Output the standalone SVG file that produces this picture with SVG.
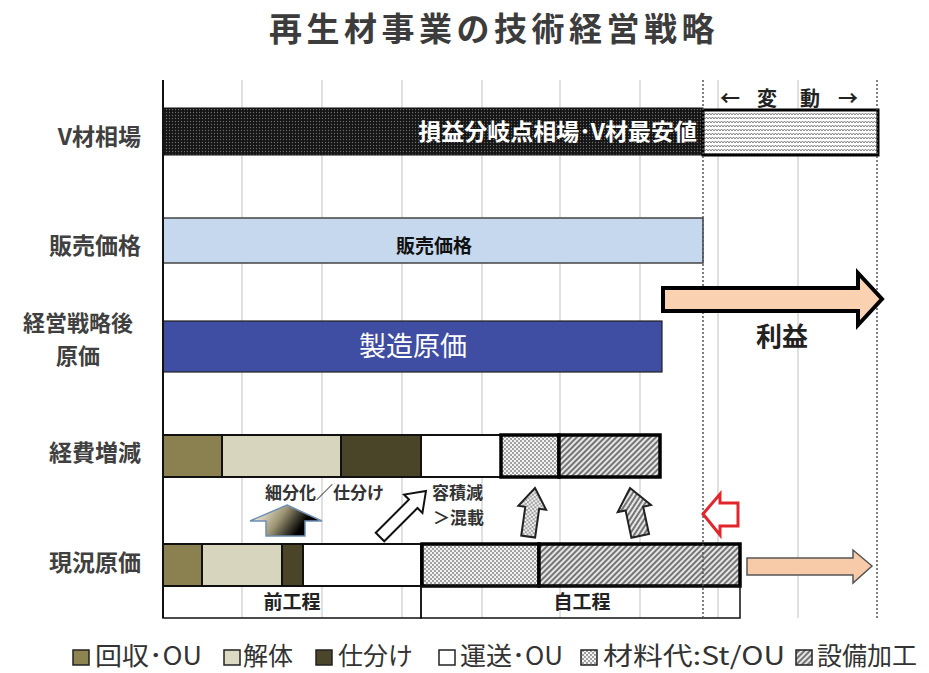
<svg xmlns="http://www.w3.org/2000/svg" width="929" height="673" viewBox="0 0 929 673">
<style>
text{font-family:"Noto Sans CJK JP","Noto Sans",sans-serif;}
.title{font-size:33px;font-weight:700;fill:#3c3c3c;letter-spacing:4.5px;}
.lbl{font-size:23px;font-weight:700;fill:#404040;}
.grid{stroke:#d6d6d6;stroke-width:1.5;}
.dash{stroke:#555;stroke-width:1.5;stroke-dasharray:2 2;}
.seg{stroke:#111;stroke-width:2;}
.thick{stroke:#000;stroke-width:3.5;}
.leg{font-size:25px;fill:#333;}
.legsq{stroke:#222;stroke-width:1.5;}
.ann{font-size:17px;font-weight:700;fill:#333;}
.var{font-size:20px;font-weight:700;fill:#222;}
</style>
<defs>
<pattern id="darkdots" width="3" height="3" patternUnits="userSpaceOnUse">
<rect width="3" height="3" fill="#151515"/>
<circle cx="1.5" cy="1.5" r="0.7" fill="#6a6a6a"/>
</pattern>
<pattern id="zigzag" width="6" height="4" patternUnits="userSpaceOnUse">
<rect width="6" height="4" fill="#fff"/>
<polyline points="0,3 1.5,1 3,3 4.5,1 6,3" fill="none" stroke="#777" stroke-width="0.9"/>
</pattern>
<pattern id="dots" width="4" height="4" patternUnits="userSpaceOnUse">
<rect width="4" height="4" fill="#f2f2f2"/>
<circle cx="1" cy="1" r="0.9" fill="#7a7a7a"/>
<circle cx="3" cy="3" r="0.9" fill="#7a7a7a"/>
</pattern>
<pattern id="hatch" width="4" height="4" patternUnits="userSpaceOnUse" patternTransform="rotate(45)">
<rect width="4" height="4" fill="#e6e6e6"/>
<line x1="1" y1="0" x2="1" y2="4" stroke="#444" stroke-width="1.4"/>
</pattern>
<linearGradient id="grad" x1="0" y1="0" x2="1" y2="0.3">
<stop offset="0.15" stop-color="#f1eedc"/>
<stop offset="0.5" stop-color="#9b9372"/>
<stop offset="0.85" stop-color="#000"/>
</linearGradient>
</defs>
<rect width="929" height="673" fill="#fff"/>

<g id="title"><text class="title" x="494" y="41" text-anchor="middle">再生材事業の技術経営戦略</text></g>

<g id="grid">
<line class="grid" x1="242" y1="80" x2="242" y2="618"/>
<line class="grid" x1="322" y1="80" x2="322" y2="618"/>
<line class="grid" x1="402" y1="80" x2="402" y2="618"/>
<line class="grid" x1="482" y1="80" x2="482" y2="618"/>
<line class="grid" x1="560" y1="80" x2="560" y2="618"/>
<line class="grid" x1="640" y1="80" x2="640" y2="618"/>
<line class="grid" x1="718" y1="80" x2="718" y2="618"/>
<line class="grid" x1="798" y1="80" x2="798" y2="618"/>
</g>

<g id="row-labels">
<text class="lbl" x="141" y="145" text-anchor="end">V材相場</text>
<text class="lbl" x="141" y="254" text-anchor="end">販売価格</text>
<text class="lbl" x="78" y="331" text-anchor="middle" style="font-size:22px">経営戦略後</text>
<text class="lbl" x="78" y="364" text-anchor="middle" style="font-size:22px">原価</text>
<text class="lbl" x="141" y="461" text-anchor="end">経費増減</text>
<text class="lbl" x="141" y="571" text-anchor="end">現況原価</text>
</g>

<g id="v-market">
<rect x="163" y="108" width="540" height="47" fill="url(#darkdots)" stroke="#111" stroke-width="1"/>
<text x="697" y="140" text-anchor="end" font-size="23" font-weight="700" fill="#fff">損益分岐点相場･V材最安値</text>
</g>
<g id="fluctuation">
<rect x="703" y="110" width="175" height="45" fill="url(#zigzag)" stroke="#000" stroke-width="3"/>
<text class="var" x="730" y="106" text-anchor="middle">←</text>
<text class="var" x="767" y="106" text-anchor="middle">変</text>
<text class="var" x="810" y="106" text-anchor="middle">動</text>
<text class="var" x="848" y="106" text-anchor="middle">→</text>
</g>

<g id="sales-price">
<rect x="163" y="218" width="540" height="45" fill="#c6d8ee" stroke="#444" stroke-width="1.5"/>
<text x="434" y="253" text-anchor="middle" font-size="19" font-weight="700" fill="#111">販売価格</text>
</g>

<g id="mfg-cost">
<rect x="163" y="321" width="499" height="51" fill="#3f4da3" stroke="#222" stroke-width="1.2"/>
<text x="413" y="356" text-anchor="middle" font-size="27" fill="#fff">製造原価</text>
</g>

<g id="profit">
<text x="782" y="346" text-anchor="middle" font-size="26" font-weight="700" fill="#222">利益</text>
</g>

<g id="expense-change">
<rect class="seg" x="163" y="435" width="59" height="42" fill="#8b8050"/>
<rect class="seg" x="222" y="435" width="119" height="42" fill="#d8d5be"/>
<rect class="seg" x="341" y="435" width="80" height="42" fill="#4a4428"/>
<rect class="seg" x="421" y="435" width="80" height="42" fill="#fff"/>
<rect class="thick" x="501" y="435" width="58" height="42" fill="url(#dots)"/>
<rect class="thick" x="559" y="435" width="101" height="42" fill="url(#hatch)"/>
</g>

<g id="current-cost">
<rect class="seg" x="163" y="544" width="39" height="42" fill="#8b8050"/>
<rect class="seg" x="202" y="544" width="80" height="42" fill="#d8d5be"/>
<rect class="seg" x="282" y="544" width="21" height="42" fill="#4a4428"/>
<rect class="seg" x="303" y="544" width="118" height="42" fill="#fff"/>
<rect class="thick" x="422" y="544" width="117" height="42" fill="url(#dots)"/>
<rect class="thick" x="539" y="544" width="201" height="42" fill="url(#hatch)"/>
</g>

<g id="pre-process">
<rect x="163" y="586" width="258" height="32" fill="none" stroke="#111" stroke-width="1.5"/>
<text x="292" y="609" text-anchor="middle" font-size="19" font-weight="700" fill="#222">前工程</text>
</g>
<g id="own-process">
<rect x="421" y="586" width="319" height="32" fill="none" stroke="#111" stroke-width="1.5"/>
<text x="582" y="609" text-anchor="middle" font-size="19" font-weight="700" fill="#222">自工程</text>
</g>

<g id="axis">
<line x1="163" y1="80" x2="163" y2="618" stroke="#111" stroke-width="2"/>
<line class="dash" x1="703" y1="80" x2="703" y2="618"/>
<line class="dash" x1="877" y1="80" x2="877" y2="618"/>
</g>

<g id="annotations">
<text class="ann" x="265" y="499">細分化／仕分け</text>
<text class="ann" x="432" y="499">容積減</text>
<text class="ann" x="433" y="524">＞混載</text>
</g>

<g id="connectors">
<polygon points="663,288 858,288 858,273 882,299 858,325 858,311 663,311" fill="#fad2b2" stroke="#000" stroke-width="4" stroke-linejoin="miter"/>
<polygon points="287,505 322,521 305,521 305,536 266,536 266,521 250,521" fill="url(#grad)" stroke="#6f8fb5" stroke-width="1.5"/>
<polygon transform="translate(380,537) rotate(-45)" points="0,-6 47,-6 47,-13 65,0 47,13 47,6 0,6" fill="#fff" stroke="#111" stroke-width="2"/>
<polygon transform="translate(535,488) rotate(8)" points="0,0 14,20 7,20 7,49 -7,49 -7,20 -14,20" fill="url(#dots)" stroke="#222" stroke-width="2"/>
<polygon transform="translate(630,488) rotate(-12)" points="0,0 17,21 9,21 9,49 -9,49 -9,21 -17,21" fill="url(#hatch)" stroke="#222" stroke-width="2"/>
<polygon points="703,514 720,494 720,503 738,503 738,526 720,526 720,535" fill="#fff" stroke="#e3262b" stroke-width="3"/>
<polygon points="747,558 853,558 853,550 872,566 853,583 853,575 747,575" fill="#f8cba8" stroke="#555" stroke-width="1.5"/>
</g>

<g id="legend">
<rect class="legsq" x="73" y="650" width="16" height="15" fill="#8e8450"/>
<text class="leg" x="95" y="665" textLength="107" lengthAdjust="spacingAndGlyphs">回収･OU</text>
<rect class="legsq" x="224" y="650" width="16" height="15" fill="#dcdac3"/>
<text class="leg" x="243" y="665">解体</text>
<rect class="legsq" x="316" y="650" width="16" height="15" fill="#4b4529"/>
<text class="leg" x="338" y="665">仕分け</text>
<rect class="legsq" x="439" y="650" width="16" height="15" fill="#fff"/>
<text class="leg" x="460" y="665" textLength="103" lengthAdjust="spacingAndGlyphs">運送･OU</text>
<rect class="legsq" x="581" y="650" width="16" height="15" fill="url(#dots)"/>
<text class="leg" x="603" y="665" textLength="182" lengthAdjust="spacingAndGlyphs">材料代:St/OU</text>
<rect class="legsq" x="796" y="650" width="16" height="15" fill="url(#hatch)"/>
<text class="leg" x="817" y="665">設備加工</text>
</g>
</svg>
